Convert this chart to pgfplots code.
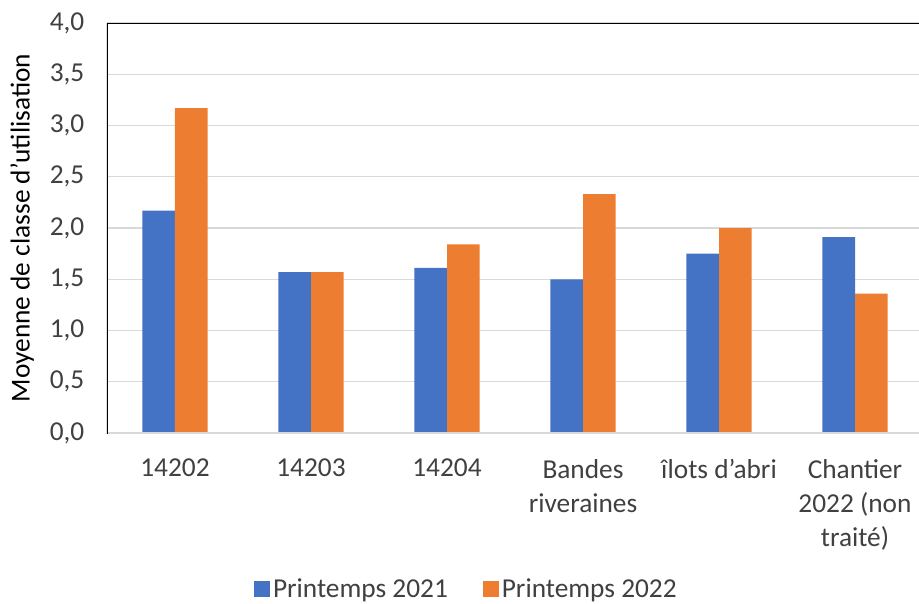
\documentclass[border=0pt]{standalone}
\usepackage{pgfplots}
\pgfplotsset{compat=1.18}
\usepackage{fontspec}
\setmainfont{Carlito}
\definecolor{cblue}{HTML}{4472C4}
\definecolor{corange}{HTML}{ED7D31}
\definecolor{ctext}{HTML}{404040}
\definecolor{cgrid}{HTML}{D9D9D9}
\begin{document}
\begin{tikzpicture}
\begin{axis}[
  at={(0,0)}, anchor=south west,
  scale only axis,
  width=612pt, height=307.5pt,
  ybar=0pt, bar width=24.4pt,
  xmin=-0.5, xmax=5.5,
  ymin=0, ymax=4,
  ytick={0,0.5,...,4},
  xtick={0,1,2,3,4,5},
  xticklabels={14202,14203,14204,{Bandes\\riveraines},{îlots d'abri},{Chantier\\2022 (non\\traité)}},
  major tick length=0pt,
  axis line style={draw=none},
  ymajorgrids, grid style={cgrid, line width=1.1pt},
  font=\fontsize{20.5}{25.5}\selectfont,
  tick label style={text=ctext, font=\fontsize{20.5}{25.5}\selectfont},
  xticklabel style={align=center, yshift=-16pt},
  yticklabel style={xshift=-13.5pt},
  /pgf/number format/.cd, fixed, fixed zerofill, precision=1, use comma, assume math mode=true,
  /pgfplots/.cd,
  ylabel={Moyenne de classe d'utilisation},
  every axis y label/.style={at={(axis description cs:-0.104,0.5)}, rotate=90, anchor=center, text=black, font=\fontsize{20.5}{25}\selectfont},
  legend columns=2,
  legend style={draw=none, at={(0.4406,-0.380)}, anchor=center, font=\fontsize{20.5}{25}\selectfont, text=ctext,
    /tikz/every even column/.append style={column sep=24pt}},
  legend image code/.code={\fill[#1] (0pt,-6pt) rectangle (12.5pt,6pt);},
]
\addplot[fill=cblue, draw=none] coordinates {(0,2.17) (1,1.57) (2,1.61) (3,1.50) (4,1.75) (5,1.91)};
\addplot[fill=corange, draw=none] coordinates {(0,3.17) (1,1.57) (2,1.84) (3,2.33) (4,2.00) (5,1.36)};
\legend{Printemps 2021, Printemps 2022}
\draw[cgrid, line width=1.1pt] (rel axis cs:0,0) -- (rel axis cs:1,0);
\draw[black, line width=1.6pt] (rel axis cs:0,-0.008) -- (rel axis cs:0,1) -- (rel axis cs:1,1);
\end{axis}
\pgfresetboundingbox
\useasboundingbox (-80.25pt,-127.75pt) rectangle (609pt,324.75pt);
\end{tikzpicture}
\end{document}
